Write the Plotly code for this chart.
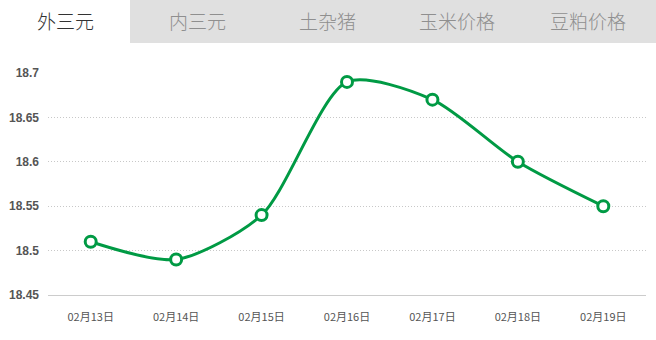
import plotly.graph_objects as go

# Tabs across the top
tabs = ["外三元", "内三元", "土杂猪", "玉米价格", "豆粕价格"]
# Daily prices for the selected tab
dates = ["02月13日", "02月14日", "02月15日", "02月16日", "02月17日", "02月18日", "02月19日"]
prices = [18.51, 18.49, 18.54, 18.69, 18.67, 18.60, 18.55]
y_ticks = [18.45, 18.5, 18.55, 18.6, 18.65, 18.7]
y_tick_text = ["18.45", "18.5", "18.55", "18.6", "18.65", "18.7"]

W, H = 656, 340
ML, MR, MT, MB = 48, 10, 73, 45
PW, PH = W - ML - MR, H - MT - MB

def px_x(x):
    return (x - ML) / PW

def px_y(y):
    return (H - MB - y) / PH

green = "#009a44"

fig = go.Figure()
fig.add_trace(go.Scatter(
    x=dates, y=prices, mode="lines+markers",
    line=dict(color=green, width=3, shape="spline", smoothing=0.75),
    marker=dict(size=11, color="white", line=dict(color=green, width=3)),
    cliponaxis=False, hoverinfo="x+y",
))

# Tab bar background
shapes = [
    dict(type="rect", xref="paper", yref="paper",
         x0=px_x(0), x1=px_x(W), y0=px_y(43), y1=px_y(0),
         fillcolor="#e0e0e0", line=dict(width=0), layer="below"),
    dict(type="rect", xref="paper", yref="paper",
         x0=px_x(0), x1=px_x(130), y0=px_y(43), y1=px_y(0),
         fillcolor="white", line=dict(width=0), layer="below"),
]
tab_centers = [65, 197, 327, 457, 588]
annotations = []
for i, (t, cx) in enumerate(zip(tabs, tab_centers)):
    annotations.append(dict(
        text=t, x=px_x(cx), y=px_y(21), xref="paper", yref="paper",
        showarrow=False, xanchor="center", yanchor="middle",
        font=dict(family="Noto Sans CJK SC", size=19, weight=300,
                  color="#333333" if i == 0 else "#8f8f8f"),
    ))

fig.update_layout(
    width=W, height=H,
    margin=dict(l=ML, r=MR, t=MT, b=MB),
    paper_bgcolor="white", plot_bgcolor="white",
    showlegend=False,
    shapes=shapes, annotations=annotations,
    xaxis=dict(
        type="category", range=[-0.5, 6.5],
        showgrid=False, zeroline=False,
        showline=True, linecolor="#cccccc", linewidth=1,
        ticks="", ticklabelstandoff=12,
        tickfont=dict(family="Noto Sans CJK SC", size=11, color="#555555"),
    ),
    yaxis=dict(
        range=[18.45, 18.7],
        tickvals=y_ticks, ticktext=y_tick_text,
        showgrid=True, gridcolor="#c8c8c8", griddash="1px,2px", gridwidth=1,
        zeroline=False, showline=False,
        ticks="", ticklabelstandoff=8,
        tickfont=dict(family="Arial, Liberation Sans", size=12, color="#555555", weight="bold"),
    ),
)

fig.write_html("out.html")
